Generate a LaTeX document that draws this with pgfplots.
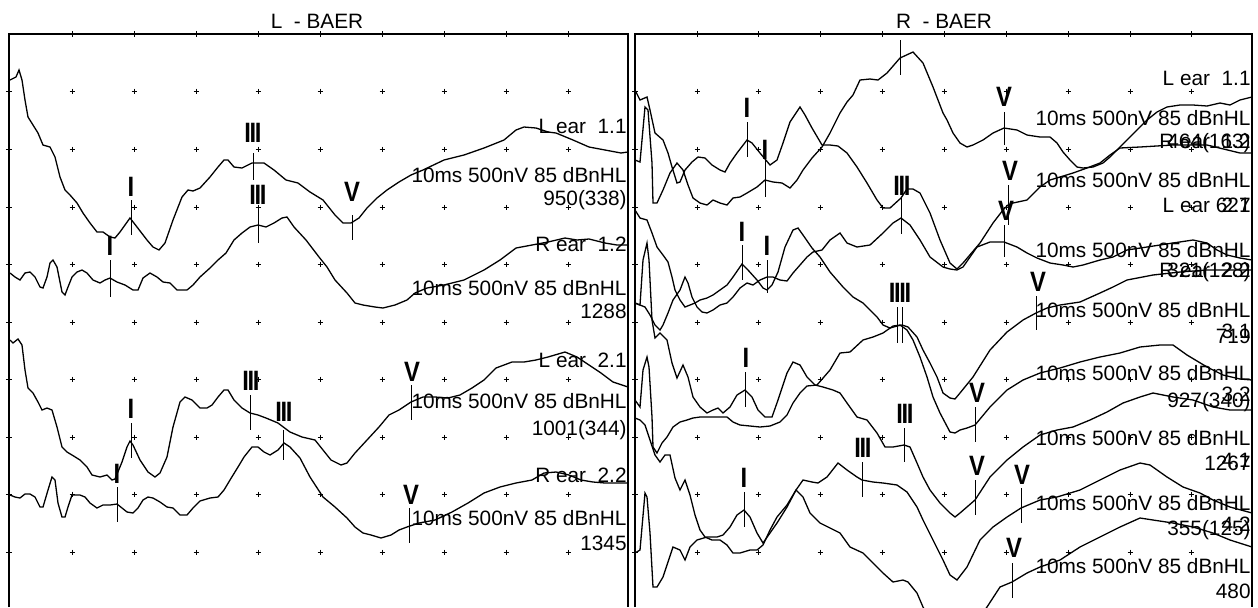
\documentclass[border=0pt]{standalone}
\usepackage{fontspec}
\setmainfont{Liberation Sans}
\usepackage{pgfplots}
\pgfplotsset{compat=1.18}

% one pixel of the recording = 0.5pt
\pgfplotsset{
  panel/.style={
    scale only axis, height=286.5pt,
    y dir=reverse, ymin=34, ymax=607,
    anchor=center, clip mode=individual,
    axis line style={draw=none},
    xtick pos=right, ytick pos=left,
    xticklabels={}, yticklabels={},
    tick align=center, major tick length=3pt,
    tick style={black, line width=0.45pt},
    ytick={91,149,207,264,322,379,437,494,552},
  },
  wave/.style={black, line width=0.65pt, mark=none},
  mk/.style={black, line width=0.5pt, mark=none},
  gridmk/.style={only marks, mark=+, mark size=1.25pt, mark options={line width=0.4pt, black}},
}
\tikzset{
  txt/.style={font=\fontsize{10.4}{12}\selectfont, inner sep=0pt, anchor=base east},
  mklab/.style={font=\fontsize{14}{14}\selectfont\bfseries, inner sep=0pt, anchor=center},
}
\newcommand{\III}{I\kern-0.8pt I\kern-0.8pt I}
% peak marker: tick line and its label
\newcommand{\tk}[3]{\addplot[mk] coordinates {(#1,#2) (#1,#3)};}
\newcommand{\lb}[3]{\node[mklab] at (axis cs:#1,#2) {\scalebox{0.85}[1]{#3}};}
\newcommand{\tx}[3]{\node[txt] at (axis cs:#1,#2) {#3};}

\begin{document}
\begin{tikzpicture}
\path[use as bounding box] (0,0) rectangle (629pt,303.5pt);

%% ---------------- left ear panel ----------------
\begin{axis}[panel, width=309.5pt, xmin=9, xmax=628,
  at={(159.25pt,143.25pt)},
  xtick={72,134,196,258,320,382,444,506,568}]
  \pgfplotsinvokeforeach{91,149,207,264,322,379,437,494,552}{
    \addplot[gridmk] coordinates {(72,#1) (134,#1) (196,#1) (258,#1) (320,#1) (382,#1) (444,#1) (506,#1) (568,#1)};
  }
  \draw[line width=0.6pt] (rel axis cs:0,0) -- (rel axis cs:0,1) -- (rel axis cs:1,1) -- (rel axis cs:1,0);

  % L ear 1.1
  \addplot[wave] coordinates {(10,80) (16,77) (19,70) (22,80) (25,100) (28,117) (33,125) (38,133) (43,145) (50,147) (55,157) (60,177) (65,190) (70,195) (77,203) (83,213) (90,223) (97,232) (103,232) (110,237) (115,238) (120,232) (130,218) (137,227) (147,240) (153,247) (159,250) (165,243) (173,220) (182,197) (188,190) (193,191) (200,188) (210,177) (218,167) (224,160) (228,160) (234,167) (242,168) (252,163) (264,163) (274,170) (286,180) (298,183) (310,192) (323,200) (335,215) (343,223) (351,223) (359,218) (367,208) (377,198) (387,190) (399,182) (411,175) (423,170) (444,160) (464,155) (484,148) (504,140) (516,130) (524,127) (536,128) (548,132) (556,133) (573,140) (589,147) (605,150) (621,153) (628,152)};
  % R ear 1.2
  \addplot[wave] coordinates {(10,273) (15,277) (20,280) (25,273) (30,272) (35,277) (40,287) (43,288) (47,277) (50,263) (53,260) (57,267) (62,292) (65,295) (68,287) (72,277) (77,272) (82,270) (87,273) (93,280) (100,283) (105,280) (110,278) (117,282) (125,285) (133,290) (138,290) (143,278) (150,273) (157,277) (163,282) (170,283) (177,290) (187,290) (193,285) (200,277) (210,268) (218,260) (226,253) (234,240) (242,233) (250,227) (258,225) (266,227) (274,223) (282,218) (287,217) (294,227) (306,240) (319,257) (327,267) (335,280) (347,293) (355,303) (363,305) (375,307) (383,308) (395,305) (407,300) (415,293) (427,288) (444,285) (464,280) (484,270) (500,260) (516,248) (532,245) (548,242) (565,238) (577,240) (589,239) (605,243) (617,245) (628,245)};
  % L ear 2.1
  \addplot[wave] coordinates {(10,340) (13,343) (18,339) (22,345) (25,370) (28,388) (33,393) (38,402) (42,410) (47,408) (52,410) (57,427) (62,447) (67,452) (72,455) (80,460) (87,467) (92,475) (100,477) (107,475) (112,480) (115,479) (122,462) (127,447) (130,441) (133,445) (140,460) (148,472) (155,477) (160,473) (167,457) (173,427) (180,402) (185,397) (192,400) (200,408) (207,408) (212,405) (218,397) (224,390) (228,390) (234,400) (242,408) (250,413) (258,415) (266,418) (278,423) (290,432) (302,437) (315,440) (323,450) (331,460) (341,465) (347,463) (355,453) (367,440) (379,427) (389,415) (399,410) (411,402) (423,397) (435,397) (448,398) (460,395) (472,388) (484,380) (496,368) (512,362) (524,362) (536,360) (548,357) (565,352) (577,357) (589,365) (601,373) (613,382) (628,387)};
  % R ear 2.2
  \addplot[wave] coordinates {(10,495) (15,497) (20,498) (25,494) (30,494) (35,497) (40,507) (43,507) (48,490) (52,477) (55,480) (58,503) (62,517) (65,517) (68,507) (72,495) (80,495) (85,497) (90,503) (97,508) (103,505) (110,505) (117,504) (122,508) (127,512) (133,513) (138,508) (143,500) (148,497) (153,498) (160,502) (167,507) (173,508) (180,515) (187,515) (193,508) (200,501) (210,498) (218,497) (224,490) (230,480) (238,467) (244,457) (252,447) (258,447) (264,452) (270,455) (278,450) (284,443) (290,447) (300,458) (310,477) (323,497) (335,507) (347,518) (355,527) (363,533) (371,535) (381,538) (391,535) (399,530) (407,527) (419,523) (435,520) (452,512) (468,503) (484,493) (500,487) (516,483) (532,480) (544,473) (556,472) (569,475) (581,480) (593,482) (605,483) (628,483)};

  % peak markers
  \tk{131}{200}{235} \lb{131}{187}{I}
  \tk{253}{153}{180} \lb{253}{133}{\III}
  \tk{352}{215}{240} \lb{352}{192}{V}
  \tk{110}{260}{297} \lb{110}{246}{I}
  \tk{258}{207}{243} \lb{258}{195}{\III}
  \tk{131}{423}{458} \lb{131}{409}{I}
  \tk{250}{395}{430} \lb{251}{381}{\III}
  \tk{411}{385}{420} \lb{412}{372}{V}
  \tk{117}{487}{522} \lb{117}{474}{I}
  \tk{283}{430}{460} \lb{284}{412}{\III}
  \tk{409}{508}{543} \lb{411}{495}{V}

  % trace captions
  \tx{627}{133}{L ear\ \ 1.1}
  \tx{627}{182}{10ms 500nV 85 dBnHL}
  \tx{627}{205}{950(338)}
  \tx{627}{251}{R ear\ \ 1.2}
  \tx{627}{295}{10ms 500nV 85 dBnHL}
  \tx{627}{318}{1288}
  \tx{627}{367}{L ear\ \ 2.1}
  \tx{627}{408}{10ms 500nV 85 dBnHL}
  \tx{627}{435}{1001(344)}
  \tx{627}{482}{R ear\ \ 2.2}
  \tx{627}{525}{10ms 500nV 85 dBnHL}
  \tx{627}{550}{1345}
  \node[txt, anchor=base] at (axis cs:317,28) {L\ \ - BAER};
\end{axis}

%% ---------------- right ear panel ----------------
\begin{axis}[panel, width=308.5pt, xmin=635, xmax=1252,
  at={(471.75pt,143.25pt)},
  xtick={697,758,820,882,944,1006,1068,1130,1191}]
  \pgfplotsinvokeforeach{91,149,207,264,322,379,437,494,552}{
    \addplot[gridmk] coordinates {(697,#1) (758,#1) (820,#1) (882,#1) (944,#1) (1006,#1) (1068,#1) (1130,#1) (1191,#1)};
  }
  \draw[line width=0.6pt] (rel axis cs:0,0) -- (rel axis cs:0,1) -- (rel axis cs:1,1) -- (rel axis cs:1,0);

  % L ear 1.1
  \addplot[wave] coordinates {(635,160) (640,162) (645,107) (648,110) (652,163) (653,203) (657,203) (663,190) (670,173) (677,163) (683,170) (688,185) (693,198) (700,203) (707,205) (713,200) (720,203) (727,205) (733,198) (740,197) (747,193) (757,187) (765,180) (773,182) (782,183) (790,188) (797,180) (803,170) (812,158) (822,147) (830,133) (840,113) (847,102) (853,95) (860,80) (870,79) (878,80) (887,73) (900,58) (913,52) (923,63) (933,87) (943,113) (947,120) (953,133) (960,143) (967,147) (973,145) (983,140) (993,133) (1004,128) (1017,130) (1027,135) (1040,137) (1050,137) (1057,143) (1063,152) (1070,160) (1077,167) (1083,168) (1093,167) (1103,163) (1110,157) (1117,150) (1127,140) (1137,130) (1147,120) (1157,112) (1167,107) (1180,105) (1193,105) (1207,106) (1220,103) (1230,105) (1240,100) (1252,97)};
  % R ear 1.2
  \addplot[wave] coordinates {(635,90) (640,100) (647,97) (650,110) (655,133) (663,140) (668,153) (672,167) (677,183) (680,182) (685,170) (692,162) (698,157) (705,158) (712,165) (720,170) (725,172) (730,163) (737,153) (747,140) (752,143) (760,153) (770,165) (777,160) (783,143) (790,122) (800,107) (805,115) (812,128) (822,145) (830,145) (838,146) (847,153) (857,167) (867,183) (877,200) (883,208) (890,208) (901,198) (907,189) (913,189) (920,193) (930,213) (940,240) (950,263) (957,269) (963,263) (980,243) (993,223) (1003,210) (1008,205) (1013,203) (1027,200) (1040,187) (1050,180) (1060,177) (1073,173) (1087,168) (1100,163) (1110,155) (1120,148) (1140,147) (1173,145) (1207,145) (1240,153) (1252,153)};
  % L ear 2.1
  \addplot[wave] coordinates {(635,303) (640,305) (645,307) (650,315) (655,325) (660,330) (663,325) (668,313) (673,300) (680,290) (685,277) (688,283) (692,297) (697,307) (702,312) (707,313) (713,310) (720,305) (727,303) (733,297) (740,288) (747,283) (753,285) (760,280) (767,277) (773,277) (780,280) (787,281) (793,273) (800,265) (807,257) (813,252) (822,250) (830,240) (840,233) (847,243) (857,247) (870,245) (883,233) (893,223) (901,218) (910,225) (920,240) (930,257) (943,267) (950,269) (957,270) (963,267) (977,247) (990,242) (1004,242) (1017,247) (1027,253) (1037,258) (1050,263) (1063,265) (1073,267) (1083,265) (1100,260) (1113,257) (1127,250) (1147,247) (1173,243) (1193,240) (1207,243) (1217,250) (1227,255) (1240,258) (1252,260)};
  % R ear 2.2
  \addplot[wave] coordinates {(635,210) (640,218) (647,220) (652,233) (657,247) (663,255) (668,262) (672,277) (675,290) (680,300) (685,307) (690,305) (695,303) (700,300) (707,298) (713,295) (720,290) (727,285) (733,277) (742,264) (748,270) (757,280) (763,288) (767,290) (772,285) (778,272) (785,247) (793,230) (798,228) (803,235) (812,248) (820,257) (830,272) (843,287) (853,297) (863,303) (877,317) (883,325) (890,328) (897,326) (902,325) (908,327) (917,337) (923,350) (930,363) (937,377) (943,393) (950,398) (955,399) (960,393) (973,377) (990,350) (1007,332) (1023,320) (1036,313) (1047,308) (1060,305) (1080,302) (1100,293) (1113,287) (1127,280) (1153,275) (1180,272) (1207,270) (1252,270)};
  % 3.1
  \addplot[wave] coordinates {(635,400) (640,407) (643,370) (647,357) (649,367) (652,417) (653,447) (657,453) (662,443) (667,437) (673,427) (680,422) (687,420) (693,418) (700,417) (713,417) (727,417) (733,422) (740,425) (750,426) (760,427) (770,426) (780,422) (787,415) (793,403) (800,393) (807,386) (817,385) (830,370) (840,353) (850,352) (863,340) (873,337) (883,333) (893,326) (900,325) (907,330) (913,340) (920,357) (927,377) (933,397) (940,413) (950,432) (955,433) (960,430) (967,428) (975,425) (990,407) (1007,390) (1023,380) (1040,373) (1060,368) (1080,362) (1100,357) (1120,353) (1140,347) (1160,345) (1173,345) (1187,355) (1207,367) (1223,375) (1240,379) (1252,380)};
  % 3.2
  \addplot[wave] coordinates {(635,303) (640,305) (643,260) (647,243) (649,260) (652,320) (655,338) (660,333) (667,340) (672,363) (677,378) (683,365) (688,377) (693,397) (700,407) (707,413) (713,410) (718,408) (723,413) (730,407) (737,395) (745,390) (752,397) (758,410) (765,417) (772,417) (778,400) (787,373) (793,362) (800,365) (807,377) (815,385) (823,387) (833,390) (840,393) (847,403) (857,417) (867,420) (877,433) (885,447) (893,447) (904,445) (910,447) (917,463) (923,477) (930,490) (940,503) (950,513) (955,517) (960,513) (975,500) (990,477) (1007,460) (1023,447) (1040,435) (1057,430) (1073,427) (1090,420) (1107,412) (1123,403) (1140,397) (1153,393) (1173,397) (1193,400) (1213,407) (1230,410) (1252,410)};
  % 4.1
  \addplot[wave] coordinates {(635,553) (640,550) (645,493) (647,497) (650,533) (653,587) (657,587) (663,577) (673,547) (680,550) (685,560) (690,547) (697,540) (707,537) (717,537) (723,535) (730,527) (737,515) (744,510) (750,517) (757,533) (763,543) (770,533) (777,523) (787,507) (796,490) (803,480) (812,482) (818,483) (827,477) (838,463) (847,470) (857,477) (862,480) (873,482) (883,483) (897,485) (907,492) (917,507) (923,520) (933,540) (943,560) (950,575) (957,580) (967,567) (980,540) (993,527) (1007,517) (1021,508) (1040,500) (1057,497) (1080,490) (1100,480) (1120,470) (1140,463) (1150,465) (1167,477) (1183,487) (1200,493) (1213,500) (1230,507) (1252,513)};
  % 4.2
  \addplot[wave] coordinates {(635,418) (640,420) (645,425) (650,440) (655,455) (660,462) (665,455) (670,455) (675,478) (680,490) (685,480) (690,495) (695,515) (700,530) (705,537) (712,540) (720,540) (727,545) (733,553) (740,553) (750,550) (757,550) (763,545) (770,530) (777,517) (787,505) (796,490) (803,497) (810,513) (820,523) (830,528) (840,533) (850,547) (863,553) (873,563) (883,573) (893,582) (903,580) (908,582) (917,593) (923,607) (930,620) (950,635) (970,630) (987,607) (1000,587) (1012,582) (1027,573) (1040,567) (1060,560) (1080,547) (1100,537) (1120,527) (1140,518) (1153,520) (1173,523) (1193,527) (1213,533) (1230,540) (1252,547)};

  % peak markers
  \tk{765}{160}{197} \lb{765}{150}{I}
  \tk{900}{40}{75}
  \tk{1004}{112}{145} \lb{1004}{97}{V}
  \tk{747}{122}{157} \lb{747}{108}{I}
  \tk{1008}{185}{225} \lb{1010}{171}{V}
  \tk{767}{260}{293} \lb{767}{246}{I}
  \tk{901}{197}{234} \lb{902}{186}{\III}
  \tk{1004}{225}{257} \lb{1006}{211}{V}
  \tk{742}{245}{280} \lb{742}{232}{I}
  \tk{897}{307}{343} \tk{902}{307}{343} \lb{900}{293}{\III\kern-0.8pt I}
  \tk{1036}{296}{330} \lb{1038}{282}{V}
  \tk{975}{407}{442} \lb{977}{393}{V}
  \tk{745}{372}{407} \lb{746}{358}{I}
  \tk{904}{428}{462} \lb{905}{414}{\III}
  \tk{975}{480}{515} \lb{977}{466}{V}
  \tk{744}{492}{527} \lb{744}{478}{I}
  \tk{862}{462}{497} \lb{863}{448}{\III}
  \tk{1021}{488}{523} \lb{1022}{475}{V}
  \tk{1012}{563}{598} \lb{1014}{548}{V}

  % trace captions (several print over one another, as in the recording)
  \tx{1251}{85}{L ear\ \ 1.1}
  \tx{1251}{125}{10ms 500nV 85 dBnHL}
  \tx{1251}{148}{464(163)}
  \tx{1251}{148}{R ear\ \ 1.2}
  \tx{1251}{187}{10ms 500nV 85 dBnHL}
  \tx{1251}{212}{627}
  \tx{1251}{212}{L ear\ \ 2.1}
  \tx{1251}{257}{10ms 500nV 85 dBnHL}
  \tx{1251}{277}{321(128)}
  \tx{1251}{277}{R ear\ \ 2.2}
  \tx{1251}{317}{10ms 500nV 85 dBnHL}
  \tx{1251}{343}{719}
  \tx{1251}{338}{3.1}
  \tx{1251}{380}{10ms 500nV 85 dBnHL}
  \tx{1251}{407}{927(340)}
  \tx{1251}{401}{3.2}
  \tx{1251}{445}{10ms 500nV 85 dBnHL}
  \tx{1251}{470}{1267}
  \tx{1251}{467}{4.1}
  \tx{1251}{510}{10ms 500nV 85 dBnHL}
  \tx{1251}{535}{355(125)}
  \tx{1251}{531}{4.2}
  \tx{1251}{573}{10ms 500nV 85 dBnHL}
  \tx{1251}{598}{480}
  \node[txt, anchor=base] at (axis cs:944,28) {R\ \ - BAER};
\end{axis}
\end{tikzpicture}
\end{document}
